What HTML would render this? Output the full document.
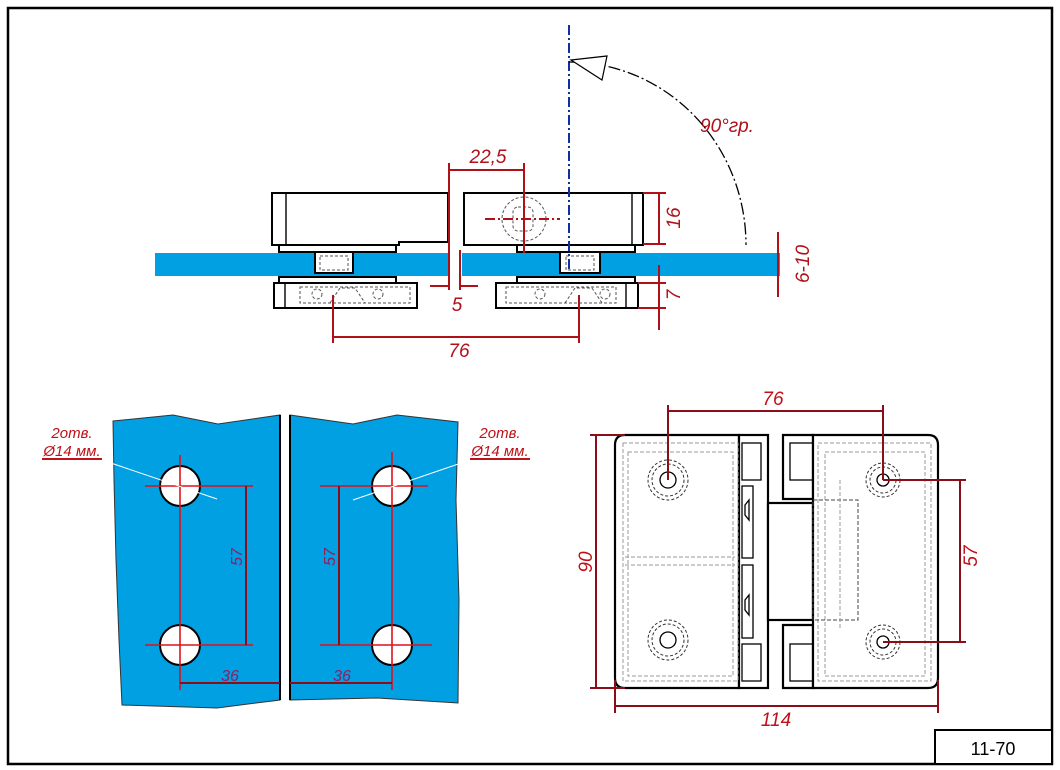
<!DOCTYPE html>
<html><head><meta charset="utf-8"><style>
html,body{margin:0;padding:0;background:#fff;}
svg{display:block;}
text{font-family:"Liberation Sans",sans-serif;font-style:italic;}
</style></head><body>
<svg width="1060" height="770" viewBox="0 0 1060 770" xmlns="http://www.w3.org/2000/svg">
<rect x="8" y="8" width="1044" height="756" fill="#fff" stroke="#000" stroke-width="2.5"/>
<rect x="935" y="730" width="117" height="34" fill="#fff" stroke="#000" stroke-width="2"/>
<text x="993" y="755" font-size="18" text-anchor="middle" style="font-style:normal">11-70</text>

<!-- TOP VIEW -->
<rect x="155" y="253" width="625" height="23" fill="#00a0e3"/>
<rect x="450" y="252" width="12" height="26" fill="#fff"/>
<g fill="#fff" stroke="#000" stroke-width="2">
<path d="M272 193 H448 V242 H399 V245 H272 Z"/>
<path d="M464 193 H643 V245 H464 Z"/>
<rect x="279" y="245" width="117" height="7"/>
<rect x="517" y="245" width="118" height="7"/>
<rect x="315" y="252" width="38" height="21"/>
<rect x="560" y="252" width="40" height="21"/>
<rect x="279" y="277" width="117" height="6"/>
<rect x="517" y="277" width="118" height="6"/>
<rect x="274" y="283" width="143" height="25"/>
<rect x="496" y="283" width="142" height="25"/>
</g>
<g stroke="#000" stroke-width="1.4"><line x1="286" y1="193" x2="286" y2="245"/><line x1="632" y1="193" x2="632" y2="245"/><line x1="285" y1="283" x2="285" y2="308"/><line x1="626" y1="283" x2="626" y2="308"/></g>
<g fill="none" stroke="#555" stroke-width="1" stroke-dasharray="3 2">
<circle cx="524" cy="219" r="22"/><rect x="513" y="207" width="20" height="24" rx="5"/>
<rect x="300" y="287" width="110" height="16"/><rect x="506" y="287" width="110" height="16"/>
<circle cx="317" cy="294" r="5"/><circle cx="378" cy="294" r="5"/><circle cx="540" cy="294" r="5"/><circle cx="605" cy="294" r="5"/>
<path d="M330 303 L340 288 H355 L365 303"/><path d="M565 303 L575 288 H592 L602 303"/>
<rect x="320" y="256" width="28" height="14"/><rect x="566" y="256" width="28" height="14"/>
</g>
<g stroke="#b01018" stroke-width="2" fill="none">
<line x1="449" y1="163" x2="449" y2="290"/><line x1="460" y1="250" x2="460" y2="290"/>
<line x1="524" y1="163" x2="524" y2="253"/>
<line x1="449" y1="170" x2="524" y2="170"/>
<line x1="430" y1="286" x2="449" y2="286"/><line x1="460" y1="286" x2="478" y2="286"/>
<line x1="485" y1="219" x2="560" y2="219" stroke-dasharray="10 3 2 3"/>
<line x1="643" y1="193" x2="666" y2="193"/><line x1="643" y1="244" x2="666" y2="244"/><line x1="659" y1="193" x2="659" y2="244"/>
<line x1="638" y1="283" x2="666" y2="283"/><line x1="638" y1="308" x2="666" y2="308"/><line x1="659" y1="265" x2="659" y2="330"/>
<line x1="778" y1="232" x2="778" y2="297"/>
<line x1="333" y1="295" x2="333" y2="343"/><line x1="579" y1="295" x2="579" y2="343"/><line x1="333" y1="337" x2="579" y2="337"/>
</g>
<g fill="#b01018" font-size="19">
<text x="488" y="163" text-anchor="middle">22,5</text>
<text x="457" y="311" text-anchor="middle">5</text>
<text x="459" y="357" text-anchor="middle">76</text>
<text transform="translate(680,218) rotate(-90)" text-anchor="middle">16</text>
<text transform="translate(680,295) rotate(-90)" text-anchor="middle">7</text>
<text transform="translate(809,264) rotate(-90)" text-anchor="middle">6-10</text>
<text x="700" y="132">90°гр.</text>
</g>
<line x1="569" y1="25" x2="569" y2="272" stroke="#1030a0" stroke-width="2" stroke-dasharray="10 3 2 3"/>
<path d="M569 62 A177 183 0 0 1 746 245" fill="none" stroke="#000" stroke-width="1.3" stroke-dasharray="12 3 2 3"/>
<path d="M571 60 L607 56 L602 80 Z" fill="#fff" stroke="#000" stroke-width="1.2"/>

<!-- GLASS PANELS -->
<path d="M113 421 L173 415 L218 424 L280 415 L280 700 L217 708 L122 705 L119 640 L116 560 L114 480 Z" fill="#00a0e3" stroke="#333" stroke-width="1"/>
<path d="M290 415 L353 424 L397 415 L458 422 L456 500 L459 600 L458 703 L377 698 L290 700 Z" fill="#00a0e3" stroke="#333" stroke-width="1"/>
<line x1="280" y1="415" x2="280" y2="700" stroke="#000" stroke-width="2"/>
<line x1="290" y1="415" x2="290" y2="700" stroke="#000" stroke-width="2"/>
<g fill="#fff" stroke="#000" stroke-width="2">
<circle cx="180" cy="486" r="20"/><circle cx="180" cy="645" r="20"/>
<circle cx="392" cy="486" r="20"/><circle cx="392" cy="645" r="20"/>
</g>
<g stroke="#e0101a" stroke-width="1.6">
<line x1="145" y1="486" x2="253" y2="486"/><line x1="145" y1="645" x2="253" y2="645"/>
<line x1="180" y1="455" x2="180" y2="690"/>
<line x1="320" y1="486" x2="428" y2="486"/><line x1="320" y1="645" x2="432" y2="645"/>
<line x1="392" y1="452" x2="392" y2="690"/>
</g>
<g stroke="#8b0d1a" stroke-width="2">
<line x1="246" y1="486" x2="246" y2="645"/><line x1="339" y1="486" x2="339" y2="645"/>
<line x1="180" y1="683" x2="280" y2="683"/><line x1="290" y1="683" x2="392" y2="683"/>
</g>
<g stroke="#fff" stroke-width="1"><line x1="102" y1="460" x2="217" y2="499"/><line x1="470" y1="460" x2="353" y2="500"/></g>
<g fill="#8b2060" font-size="16">
<text transform="translate(242,557) rotate(-90)" text-anchor="middle">57</text>
<text transform="translate(335,557) rotate(-90)" text-anchor="middle">57</text>
<text x="230" y="681" text-anchor="middle">36</text>
<text x="342" y="681" text-anchor="middle">36</text>
</g>
<g fill="#c0101a" font-size="15">
<text x="72" y="438" text-anchor="middle">2отв.</text>
<text x="72" y="456" text-anchor="middle">Ø14 мм.</text>
<text x="500" y="438" text-anchor="middle">2отв.</text>
<text x="500" y="456" text-anchor="middle">Ø14 мм.</text>
</g>
<line x1="42" y1="459" x2="102" y2="459" stroke="#c0101a" stroke-width="2"/>
<line x1="470" y1="459" x2="530" y2="459" stroke="#c0101a" stroke-width="2"/>

<!-- HINGE FRONT VIEW -->
<g fill="#fff" stroke="#000" stroke-width="2.2">
<path d="M625 435 H739 V688 H625 Q615 688 615 678 V445 Q615 435 625 435 Z"/>
<rect x="739" y="435" width="29" height="253"/>
<rect x="768" y="503" width="45" height="117"/>
<path d="M783 435 H813 V499 H783 Z"/><path d="M783 625 H813 V688 H783 Z"/>
<path d="M813 435 H928 Q938 435 938 445 V678 Q938 688 928 688 H813 Z"/>
</g>
<g fill="none" stroke="#000" stroke-width="1.3">
<rect x="742" y="443" width="19" height="37"/><rect x="742" y="486" width="11" height="72"/>
<rect x="742" y="565" width="11" height="73"/><rect x="742" y="644" width="19" height="37"/>
<rect x="790" y="443" width="23" height="37"/><rect x="790" y="644" width="23" height="37"/>
<path d="M745 505 l4 -5 v20 l-4 -5z"/><path d="M745 600 l4 -5 v20 l-4 -5z"/>
<circle cx="668" cy="480" r="8"/><circle cx="668" cy="640" r="8"/>
<circle cx="883" cy="480" r="6"/><circle cx="883" cy="642" r="6"/>
</g>
<g fill="none" stroke="#999" stroke-width="1" stroke-dasharray="4 2">
<rect x="623" y="443" width="115" height="238"/><rect x="628" y="452" width="105" height="224"/>
<line x1="625" y1="557" x2="735" y2="557"/><line x1="625" y1="565" x2="735" y2="565"/>
<rect x="818" y="443" width="113" height="238"/><rect x="825" y="452" width="100" height="224"/>
<rect x="813" y="500" width="45" height="120" stroke="#444"/>
<line x1="840" y1="480" x2="840" y2="630"/>
</g>
<g fill="none" stroke="#333" stroke-width="1" stroke-dasharray="3 2">
<circle cx="668" cy="480" r="16"/><circle cx="668" cy="480" r="20"/>
<circle cx="668" cy="640" r="16"/><circle cx="668" cy="640" r="20"/>
<circle cx="883" cy="480" r="13"/><circle cx="883" cy="480" r="17"/>
<circle cx="883" cy="642" r="13"/><circle cx="883" cy="642" r="17"/>
</g>
<g stroke="#8b0d1a" stroke-width="2" fill="none">
<line x1="668" y1="405" x2="668" y2="480"/><line x1="883" y1="405" x2="883" y2="480"/>
<line x1="668" y1="411" x2="883" y2="411"/>
<line x1="590" y1="435" x2="625" y2="435"/><line x1="590" y1="688" x2="625" y2="688"/>
<line x1="596" y1="435" x2="596" y2="688"/>
<line x1="615" y1="680" x2="615" y2="713"/><line x1="938" y1="680" x2="938" y2="713"/>
<line x1="615" y1="706" x2="938" y2="706"/>
<line x1="883" y1="480" x2="966" y2="480"/><line x1="883" y1="642" x2="966" y2="642"/>
<line x1="960" y1="480" x2="960" y2="642"/>
</g>
<g fill="#c0101a" font-size="19">
<text x="773" y="405" text-anchor="middle">76</text>
<text x="776" y="726" text-anchor="middle">114</text>
<text transform="translate(592,562) rotate(-90)" text-anchor="middle">90</text>
<text transform="translate(977,556) rotate(-90)" text-anchor="middle">57</text>
</g>
</svg>
</body></html>
